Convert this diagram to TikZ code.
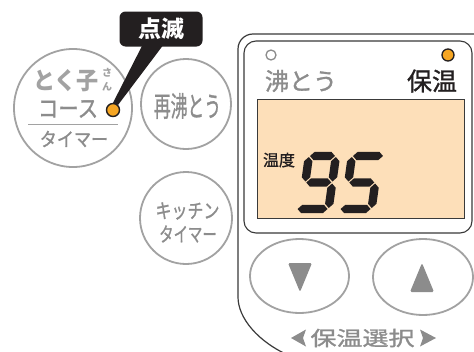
\documentclass[tikz,border=0pt]{standalone}
\usepackage{fontspec}
\usepackage{graphicx}
\usetikzlibrary{shapes.geometric}
\newfontfamily\jp{Noto Sans CJK JP}
\newfontfamily\jpm[FakeBold=1.2]{Noto Sans CJK JP}
\definecolor{tgray}{HTML}{8C8C8C}
\definecolor{cgray}{HTML}{A2A2A2}
\definecolor{pline}{HTML}{3A3A3A}
\definecolor{lcd}{HTML}{FDDFB9}
\definecolor{dotor}{HTML}{F6A623}
\definecolor{darkc}{HTML}{231F20}
\newcommand\sgh[3]{\fill (#1,#3) -- ({#1+4.2},{#3-4.2}) -- ({#2-4.2},{#3-4.2}) -- (#2,#3) -- ({#2-4.2},{#3+4.2}) -- ({#1+4.2},{#3+4.2}) -- cycle;}
\newcommand\sgv[3]{\fill (#1,#2) -- ({#1+4.2},{#2+4.2}) -- ({#1+4.2},{#3-4.2}) -- (#1,#3) -- ({#1-4.2},{#3-4.2}) -- ({#1-4.2},{#2+4.2}) -- cycle;}
\tikzset{
  cbtn/.style={draw=cgray, line width=1.8pt, circle, inner sep=0pt},
  obtn/.style={draw=cgray, line width=1.8pt, ellipse, inner sep=0pt},
  gtxt/.style={text=tgray, inner sep=0pt},
  btxt/.style={text=darkc, inner sep=0pt},
}
\begin{document}
\begin{tikzpicture}[x=1pt,y=-1pt]
\useasboundingbox (0,0) rectangle (474,351);
\fill[white] (0,0) rectangle (474,351);
\clip (0,0) rectangle (474,351);

% outer panel
\draw[pline, line width=1.2pt, fill=white] (490,34) -- (253,34) .. controls (244.7,34) and (238,40.7) .. (238,49) -- (238,297) .. controls (238,318) and (258,342) .. (290,356) -- (490,356);
% inner screen area
\draw[pline, line width=1.1pt, rounded corners=12pt] (244,41) rectangle (472,233);
\node[draw=pline, line width=0.9pt, fill=lcd, anchor=north west, minimum width=207pt, minimum height=119pt, inner sep=0pt] (lcdbox) at (257,99) {};

% indicator labels
\node[draw=tgray, line width=1.3pt, circle, minimum size=10pt, inner sep=0pt] (boildot) at (271,55) {};
\node[gtxt, font=\jpm\fontsize{24}{24}\selectfont] (boil) at (301,81) {沸とう};
\node[draw=darkc, line width=1.3pt, fill=dotor, circle, minimum size=12pt, inner sep=0pt] (keepdot) at (448,55) {};
\node[btxt, font=\jpm\fontsize{25}{25}\selectfont] (keep) at (432,81) {保温};

% LCD content
\node[btxt, font=\jpm\fontsize{16}{16}\selectfont] (ondo) at (279,160) {温度};
\begin{scope}[darkc, shift={(297,213)}, xslant=0.14]
  \sgh{5}{30}{-57}
  \sgv{31}{-56}{-31.5}
  \sgv{31}{-29.5}{-5}
  \sgh{0}{30}{-4}
  \sgv{4}{-56}{-31.5}
  \sgh{5}{30}{-30.5}
\end{scope}
\begin{scope}[darkc, shift={(340,213)}, xslant=0.14]
  \sgh{5}{35}{-57}
  \sgv{4}{-56}{-31.5}
  \sgh{5}{30}{-30.5}
  \sgv{31}{-29.5}{-5}
  \sgh{0}{30}{-4}
\end{scope}

% arrow buttons
\node[obtn, minimum width=99pt, minimum height=74pt] (down) at (299.5,276) {};
\node[obtn, minimum width=100pt, minimum height=76pt] (up) at (423,277) {};
\fill[tgray, rounded corners=1.5pt] (288,263) -- (312,263) -- (300,292) -- cycle;
\fill[tgray, rounded corners=1.5pt] (422,263) -- (434,292) -- (410,292) -- cycle;

% bottom label
\node[gtxt, font=\jpm\fontsize{20}{20}\selectfont] (sel) at (362.5,338) {\scalebox{1.3}[1]{保温選択}};
\fill[tgray] (291,338) -- (306,329.5) -- (303,338) -- (306,346.5) -- cycle;
\fill[tgray] (436,338) -- (420,329.5) -- (423,338) -- (420,346.5) -- cycle;

% left buttons
\node[cbtn, minimum size=118pt] (toku) at (73,108) {};
\node[gtxt, font=\jp\bfseries\fontsize{24}{24}\selectfont, text=cgray] (tokuko) at (66,81) {\scalebox{0.92}[1]{とく子}};
\node[gtxt, font=\jp\bfseries\fontsize{10}{14}\selectfont, text=cgray, align=center] (san) at (107,80) {さ\\ん};
\node[gtxt, font=\jpm\fontsize{24}{24}\selectfont] (course) at (68,109) {\scalebox{0.85}[1]{コース}};
\draw[cgray, line width=1.5pt] (28,124.5) -- (118,124.5);
\node[gtxt, font=\jpm\fontsize{19}{19}\selectfont] (timer1) at (74,139) {\scalebox{0.9}[1]{タイマー}};

\node[cbtn, minimum size=90pt] (reboil) at (186,104) {};
\node[gtxt, font=\jpm\fontsize{28}{28}\selectfont] (reboilt) at (187.5,106) {\scalebox{0.6}[1]{再沸とう}};

\node[cbtn, minimum size=92pt] (kitchen) at (186,218) {};
\node[gtxt, font=\jpm\fontsize{20}{20}\selectfont] (kit1) at (187.5,211) {\scalebox{0.8}[1]{キッチン}};
\node[gtxt, font=\jpm\fontsize{20}{20}\selectfont] (kit2) at (188,234) {\scalebox{0.72}[1]{タイマー}};

% callout
\node[fill=darkc, rounded corners=6pt, minimum width=83pt, minimum height=35pt, inner sep=0pt] (call) at (161,29) {};
\node[text=white, inner sep=0pt, font=\jp\bfseries\fontsize{23}{23}\selectfont] (calltxt) at (161.5,29) {点滅};
\coordinate (tailL) at (143,44);
\coordinate (tailR) at (164,44);
\node[draw=darkc, line width=1.4pt, fill=dotor, circle, minimum size=13pt, inner sep=0pt] (dot) at (113,110) {};
\fill[darkc] (tailL) -- (tailR) -- (dot.north east) -- (dot.north) -- cycle;
\end{tikzpicture}
\end{document}
